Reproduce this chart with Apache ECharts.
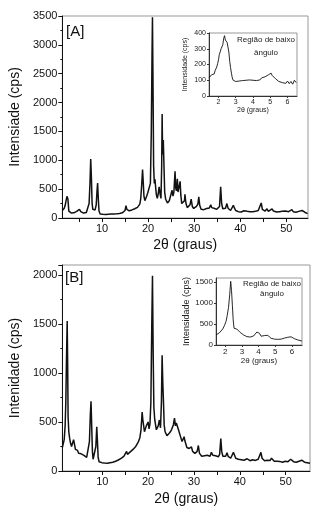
<!DOCTYPE html>
<html><head><meta charset="utf-8">
<script src="https://cdn.jsdelivr.net/npm/echarts@6/dist/echarts.min.js"></script>
<style>html,body{margin:0;padding:0;background:#fff}#c{width:321px;height:513px}</style>
</head><body><div id="c"></div>
<script>
// ---- Panel A main pattern (2theta, intensity cps) ----
const thetaA = [1.4,1.6,1.8,2.0,2.2,2.4,2.6,2.8,3.0,3.3,3.6,3.9,4.2,4.5,4.8,5.1,5.4,5.7,6.0,6.3,6.6,6.9,7.2,7.4,7.55,7.7,7.85,8.0,8.3,8.5,8.75,8.9,9.05,9.2,9.35,9.6,9.9,10.2,10.5,10.8,11.1,11.4,11.7,12.0,12.3,12.6,12.9,13.2,13.5,13.8,14.1,14.4,14.7,15.0,15.2,15.4,15.6,15.9,16.2,16.5,16.8,17.1,17.4,17.7,18.0,18.2,18.4,18.6,18.8,18.95,19.1,19.3,19.5,19.7,19.9,20.1,20.3,20.5,20.7,20.85,20.95,21.05,21.2,21.35,21.5,21.65,21.8,22.0,22.2,22.4,22.6,22.8,22.95,23.05,23.15,23.3,23.45,23.6,23.8,24.0,24.2,24.4,24.6,24.8,25.0,25.2,25.4,25.6,25.85,26.0,26.15,26.35,26.5,26.7,26.95,27.1,27.3,27.5,27.7,27.9,28.0,28.2,28.5,28.8,29.1,29.35,29.6,29.9,30.2,30.5,30.8,31.0,31.2,31.5,31.8,32.1,32.4,32.7,33.0,33.3,33.6,33.8,34.0,34.3,34.6,34.9,35.2,35.5,35.75,35.95,36.2,36.5,36.8,37.1,37.35,37.6,37.9,38.2,38.5,38.75,39.0,39.3,39.6,39.9,40.2,40.5,40.8,41.2,41.5,41.8,42.1,42.4,42.7,43.0,43.3,43.6,43.9,44.2,44.55,44.8,45.1,45.4,45.8,46.1,46.5,46.9,47.2,47.5,47.9,48.2,48.5,48.8,49.1,49.5,49.8,50.1,50.5,50.8,51.2,51.5,51.8,52.1,52.4,52.7,53.0,53.4,53.7,54.0,54.3,54.6];
const intA = [130,145,170,215,300,375,330,120,92,88,95,90,105,115,140,150,110,90,85,80,95,120,250,620,1020,700,260,150,120,140,230,450,605,330,120,70,60,65,58,62,60,65,60,68,63,70,66,72,70,78,80,90,95,130,215,150,120,125,135,140,150,160,170,185,200,240,330,560,840,620,380,300,320,380,430,400,420,600,1500,2800,3480,2500,900,600,670,520,400,340,420,540,420,340,900,1800,1100,1350,900,450,330,300,260,250,300,280,330,480,380,450,810,520,470,680,450,420,635,400,250,220,260,300,410,260,180,200,230,325,200,165,180,200,240,365,220,150,160,145,150,165,160,175,230,180,150,170,180,150,160,200,540,260,160,180,170,250,170,140,130,150,220,170,130,120,110,125,105,115,125,145,115,100,110,95,108,100,115,110,130,160,260,150,130,120,160,115,130,160,120,100,105,95,110,100,115,95,120,105,110,120,145,110,120,100,105,115,120,130,110,100,95,75];

// ---- Panel A inset (low angle) ----
const thetaAi = [1.45,1.5,1.55,1.6,1.65,1.7,1.75,1.8,1.85,1.9,1.95,2.0,2.05,2.1,2.15,2.2,2.25,2.3,2.35,2.4,2.45,2.5,2.55,2.6,2.65,2.7,2.75,2.8,2.85,2.9,2.95,3.0,3.1,3.2,3.3,3.4,3.5,3.6,3.7,3.8,3.9,4.0,4.1,4.2,4.3,4.4,4.5,4.6,4.7,4.8,4.9,5.0,5.05,5.1,5.2,5.3,5.4,5.5,5.6,5.7,5.8,5.9,6.0,6.1,6.2,6.3,6.4,6.5];
const intAi = [115,125,120,135,128,145,140,160,170,185,205,230,265,280,300,295,325,365,383,355,360,340,330,280,220,180,145,115,100,95,88,92,85,95,88,98,90,100,92,102,95,100,108,98,110,102,115,108,122,118,135,128,145,132,125,110,100,92,98,85,90,80,95,78,92,75,100,85];

// ---- Panel B main pattern ----
const thetaB = [1.3,1.5,1.7,1.9,2.05,2.2,2.35,2.45,2.55,2.7,2.9,3.1,3.3,3.5,3.75,3.95,4.15,4.4,4.6,4.85,5.1,5.4,5.7,6.0,6.3,6.6,6.9,7.2,7.4,7.55,7.7,7.85,8.0,8.2,8.4,8.6,8.8,8.95,9.1,9.3,9.6,9.9,10.2,10.5,10.8,11.1,11.4,11.7,12.0,12.3,12.6,12.9,13.2,13.5,13.8,14.1,14.4,14.7,15.0,15.3,15.5,15.8,16.1,16.4,16.7,17.0,17.3,17.6,17.9,18.2,18.45,18.7,18.85,19.0,19.2,19.4,19.6,19.8,20.0,20.2,20.4,20.6,20.8,20.95,21.1,21.25,21.45,21.6,21.8,22.0,22.2,22.45,22.7,22.9,23.05,23.2,23.35,23.5,23.7,23.9,24.1,24.3,24.5,24.7,24.9,25.1,25.3,25.5,25.75,25.95,26.15,26.35,26.55,26.75,26.95,27.2,27.4,27.6,27.85,28.0,28.2,28.45,28.7,28.95,29.2,29.45,29.7,29.95,30.2,30.45,30.7,30.95,31.2,31.45,31.7,32.0,32.3,32.6,32.9,33.2,33.5,33.8,34.1,34.4,34.7,35.0,35.3,35.6,35.85,36.05,36.3,36.6,36.9,37.2,37.45,37.7,38.0,38.3,38.6,38.85,39.1,39.4,39.7,40.0,40.3,40.6,40.9,41.2,41.6,41.9,42.2,42.5,42.8,43.1,43.4,43.7,44.0,44.3,44.6,44.85,45.1,45.4,45.7,46.0,46.3,46.6,46.9,47.2,47.5,47.8,48.1,48.4,48.7,49.0,49.3,49.6,49.9,50.2,50.5,50.8,51.1,51.4,51.7,52.0,52.3,52.6,52.9,53.2,53.5,53.8,54.1,54.4,54.7,55.0,55.3];
const intB = [240,260,320,460,700,1150,1530,1100,550,400,330,280,250,230,320,300,220,230,210,180,170,175,190,160,150,140,150,300,580,710,450,200,120,110,130,250,450,300,140,95,80,85,78,82,85,80,88,85,92,90,98,100,108,112,120,128,135,150,165,200,170,180,195,205,220,235,250,270,300,340,420,600,520,470,400,420,460,440,500,430,480,700,1500,1990,1200,650,520,520,420,410,460,520,440,700,1180,900,700,470,400,380,360,370,350,390,380,420,400,470,540,460,490,480,430,450,420,330,300,320,350,310,330,240,220,230,210,245,200,185,180,175,200,260,180,160,150,165,155,150,160,165,150,190,160,145,155,150,145,170,330,200,150,140,150,185,150,135,130,145,190,160,130,115,120,110,115,105,110,115,125,120,105,110,115,100,108,112,120,135,190,130,115,105,120,110,100,108,130,115,100,95,100,92,98,95,90,95,100,92,95,100,120,110,95,100,90,105,100,95,110,100,90,95,85,75,80];

// ---- Panel B inset (low angle) ----
const thetaBi = [1.45,1.55,1.65,1.75,1.85,1.95,2.05,2.12,2.2,2.27,2.33,2.38,2.43,2.48,2.53,2.6,2.7,2.8,2.9,3.0,3.1,3.2,3.3,3.4,3.5,3.6,3.7,3.8,3.9,3.95,4.05,4.15,4.25,4.35,4.45,4.55,4.65,4.75,4.85,4.95,5.05,5.15,5.25,5.35,5.45,5.55,5.65,5.75,5.85,5.95,6.05,6.15,6.25,6.35,6.45,6.55,6.6];
const intBi = [240,250,290,330,380,460,560,700,900,1200,1520,1300,950,600,400,370,380,350,300,270,240,215,200,195,190,195,215,255,310,320,280,210,200,225,235,230,200,160,145,140,150,135,145,140,150,165,170,185,180,195,160,150,140,120,110,100,95];

// ---- tick labels ----
const mainXLabels = [10,20,30,40,50];
const mainXTicks = [5,10,15,20,25,30,35,40,45,50];
const insetXLabels = [2,3,4,5,6];
const insetBYLabels = [0,500,1000,1500];
const mainBYLabels = [0,500,1000,1500,2000];

const zip = (xs, ys) => xs.map((x, i) => [x, ys[i]]);
const FONT = 'Liberation Sans, Arial, sans-serif';
const ink = '#111';
const plain = v => String(v);

function mainX(idx, min, max, nameGap) {
  return {
    gridIndex: idx, type: 'value', min: min, max: max,
    name: '2θ (graus)', nameLocation: 'middle', nameGap: nameGap,
    nameTextStyle: {fontFamily: FONT, fontSize: 14, color: ink},
    axisLine: {lineStyle: {color: ink, width: 1}},
    axisTick: {show: true, length: 4, customValues: mainXTicks, lineStyle: {color: ink}},
    axisLabel: {customValues: mainXLabels, fontFamily: FONT, fontSize: 11, color: ink, margin: 5, formatter: plain},
    splitLine: {show: false}
  };
}
function insetX(idx, min, max, fs, nameGap) {
  return {
    gridIndex: idx, type: 'value', min: min, max: max,
    name: '2θ (graus)', nameLocation: 'middle', nameGap: nameGap,
    nameTextStyle: {fontFamily: FONT, fontSize: fs, color: '#222'},
    axisLine: {lineStyle: {color: '#333', width: 1}},
    axisTick: {show: true, length: 2, customValues: insetXLabels, lineStyle: {color: '#333'}},
    axisLabel: {customValues: insetXLabels, fontFamily: FONT, fontSize: fs, color: '#222', margin: 3, formatter: plain},
    splitLine: {show: false}
  };
}

const option = {
  animation: false,
  backgroundColor: '#fff',
  grid: [
    {left: 60, top: 16, width: 248, height: 202, show: true, borderColor: '#999', borderWidth: 1},
    {left: 209, top: 33, width: 88, height: 63, show: true, borderColor: '#999', borderWidth: 1},
    {left: 57, top: 265, width: 253, height: 206, show: true, borderColor: '#999', borderWidth: 1},
    {left: 216, top: 278, width: 86, height: 67, show: true, borderColor: '#999', borderWidth: 1}
  ],
  xAxis: [
    mainX(0, 1.4, 54.7, 20),
    insetX(1, 1.45, 6.55, 7, 10),
    mainX(2, 1.3, 55.3, 21),
    insetX(3, 1.45, 6.6, 8, 11)
  ],
  yAxis: [
    {gridIndex: 0, type: 'value', min: 0, max: 3500, interval: 500,
     name: 'Intensiade (cps)', nameLocation: 'middle', nameGap: 40,
     nameTextStyle: {fontFamily: FONT, fontSize: 14, color: ink},
     axisLine: {show: true, lineStyle: {color: ink}},
     axisTick: {show: true, length: 4, lineStyle: {color: ink}},
     minorTick: {show: true, splitNumber: 2, length: 2, lineStyle: {color: ink}},
     axisLabel: {fontFamily: FONT, fontSize: 11, color: ink, margin: 5, formatter: plain},
     splitLine: {show: false}},
    {gridIndex: 1, type: 'value', min: 0, max: 400, interval: 100,
     name: 'Intensidade (cps)', nameLocation: 'middle', nameGap: 20,
     nameTextStyle: {fontFamily: FONT, fontSize: 7, color: '#222'},
     axisLine: {show: true, lineStyle: {color: '#333'}},
     axisTick: {show: true, length: 2, lineStyle: {color: '#333'}},
     axisLabel: {fontFamily: FONT, fontSize: 7, color: '#222', margin: 3, formatter: plain},
     splitLine: {show: false}},
    {gridIndex: 2, type: 'value', min: 0, max: 2100, interval: 500,
     name: 'Intenidade (cps)', nameLocation: 'middle', nameGap: 37,
     nameTextStyle: {fontFamily: FONT, fontSize: 14, color: ink},
     axisLine: {show: true, lineStyle: {color: ink}},
     axisTick: {show: true, length: 4, lineStyle: {color: ink}},
     minorTick: {show: true, splitNumber: 2, length: 2, lineStyle: {color: ink}},
     axisLabel: {fontFamily: FONT, fontSize: 11, color: ink, margin: 5,
                 formatter: v => mainBYLabels.indexOf(v) >= 0 ? String(v) : ''},
     splitLine: {show: false}},
    {gridIndex: 3, type: 'value', min: 0, max: 1600,
     name: 'Intensidade (cps)', nameLocation: 'middle', nameGap: 22,
     nameTextStyle: {fontFamily: FONT, fontSize: 9, color: '#222'},
     axisLine: {show: true, lineStyle: {color: '#333'}},
     axisTick: {show: true, length: 2, customValues: insetBYLabels, lineStyle: {color: '#333'}},
     axisLabel: {customValues: insetBYLabels, fontFamily: FONT, fontSize: 8, color: '#222', margin: 3, formatter: plain},
     splitLine: {show: false}}
  ],
  series: [
    {type: 'line', xAxisIndex: 0, yAxisIndex: 0, data: zip(thetaA, intA), showSymbol: false,
     lineStyle: {color: ink, width: 1.5}, clip: true},
    {type: 'line', xAxisIndex: 1, yAxisIndex: 1, data: zip(thetaAi, intAi), showSymbol: false,
     lineStyle: {color: ink, width: 0.9}, clip: true},
    {type: 'line', xAxisIndex: 2, yAxisIndex: 2, data: zip(thetaB, intB), showSymbol: false,
     lineStyle: {color: ink, width: 1.5}, clip: true},
    {type: 'line', xAxisIndex: 3, yAxisIndex: 3, data: zip(thetaBi, intBi), showSymbol: false,
     lineStyle: {color: ink, width: 0.9}, clip: true}
  ],
  graphic: [
    {type: 'text', left: 66, top: 24, style: {text: '[A]', font: '15px ' + FONT, fill: ink}},
    {type: 'text', left: 65, top: 270, style: {text: '[B]', font: '15px ' + FONT, fill: ink}},
    {type: 'text', x: 266, y: 33, style: {text: 'Região de baixo\nângulo', font: '8px ' + FONT, fill: '#222', align: 'center', lineHeight: 13}},
    {type: 'text', x: 272, y: 279, style: {text: 'Região de baixo\nângulo', font: '8px ' + FONT, fill: '#222', align: 'center', lineHeight: 10}}
  ]
};
echarts.init(document.getElementById('c')).setOption(option);
</script>
</body></html>
